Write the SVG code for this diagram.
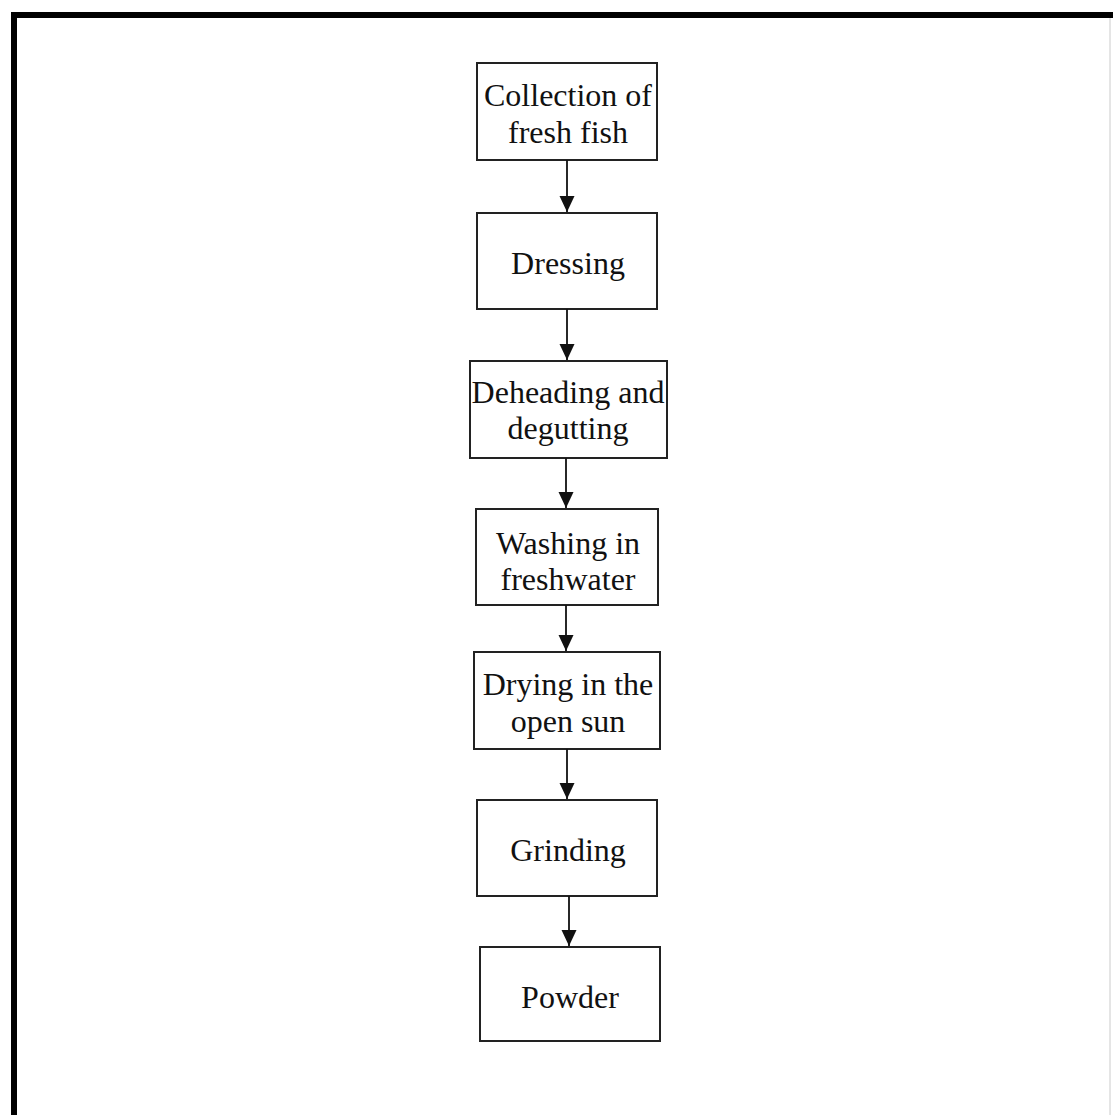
<svg xmlns="http://www.w3.org/2000/svg" width="1113" height="1115" viewBox="0 0 1113 1115">
<style>
.box{fill:#fff;stroke:#222;stroke-width:2}
.t{font-family:"Liberation Serif","Times New Roman",serif;font-size:32px;fill:#111;text-anchor:middle}
.c{stroke:#111;stroke-width:1.8;fill:none}
</style>
<defs>
<marker id="a" viewBox="0 0 16 16" refX="16" refY="8" markerWidth="16" markerHeight="16" orient="auto" markerUnits="userSpaceOnUse">
<path d="M0,0.5 L16,8 L0,15.5 Z" fill="#111"/>
</marker>
</defs>
<rect width="1113" height="1115" fill="#fff"/>
<g id="frame">
<line x1="14" y1="15" x2="1113" y2="15" stroke="#000" stroke-width="6"/>
<line x1="14" y1="12" x2="14" y2="1115" stroke="#000" stroke-width="6"/>
<line x1="1110" y1="18" x2="1110" y2="1115" stroke="#ddd" stroke-width="1.5"/>
</g>
<g id="n1"><rect class="box" x="477" y="63" width="180" height="97"/><text class="t" x="568" y="106">Collection of</text><text class="t" x="568" y="143">fresh fish</text></g>
<g id="n2"><rect class="box" x="477" y="213" width="180" height="96"/><text class="t" x="568" y="274">Dressing</text></g>
<g id="n3"><rect class="box" x="470" y="361" width="197" height="97"/><text class="t" x="568" y="403">Deheading and</text><text class="t" x="568" y="439">degutting</text></g>
<g id="n4"><rect class="box" x="476" y="509" width="182" height="96"/><text class="t" x="568" y="554">Washing in</text><text class="t" x="568" y="590">freshwater</text></g>
<g id="n5"><rect class="box" x="474" y="652" width="186" height="97"/><text class="t" x="568" y="695">Drying in the</text><text class="t" x="568" y="732">open sun</text></g>
<g id="n6"><rect class="box" x="477" y="800" width="180" height="96"/><text class="t" x="568" y="861">Grinding</text></g>
<g id="n7"><rect class="box" x="480" y="947" width="180" height="94"/><text class="t" x="570" y="1008">Powder</text></g>
<g id="connectors">
<line class="c" x1="567" y1="160" x2="567" y2="212" marker-end="url(#a)"/>
<line class="c" x1="567" y1="309" x2="567" y2="360" marker-end="url(#a)"/>
<line class="c" x1="566" y1="458" x2="566" y2="508" marker-end="url(#a)"/>
<line class="c" x1="566" y1="605" x2="566" y2="651" marker-end="url(#a)"/>
<line class="c" x1="567" y1="749" x2="567" y2="799" marker-end="url(#a)"/>
<line class="c" x1="569" y1="896" x2="569" y2="946" marker-end="url(#a)"/>
</g>
</svg>
